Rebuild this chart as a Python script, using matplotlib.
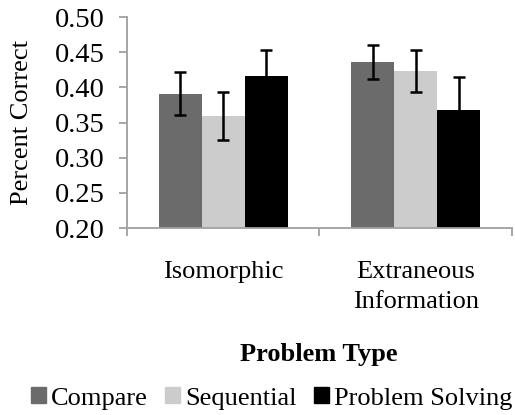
import matplotlib.pyplot as plt
import numpy as np
from matplotlib.patches import Patch

kategori = ['Isomorphic', 'Extraneous\nInformation']
seri = ['Compare', 'Sequential', 'Problem Solving']
warna = ['#6b6b6b', '#cccccc', '#000000']

nilai = [
    [0.391, 0.436],   # Compare
    [0.359, 0.423],   # Sequential
    [0.416, 0.368],   # Problem Solving
]
galat = [
    [0.031, 0.024],
    [0.034, 0.030],
    [0.037, 0.046],
]

plt.rcParams['font.family'] = ['Liberation Serif', 'DejaVu Serif']

fig = plt.figure(figsize=(5.15, 4.15), dpi=100)
ax = fig.add_axes([0.2466, 0.4506, 0.7474, 0.5084])

x = np.arange(len(kategori))
lebar = 0.223
for i, (nama, c) in enumerate(zip(seri, warna)):
    ax.bar(x + (i - 1) * lebar, nilai[i], lebar, color=c, label=nama,
           yerr=galat[i], error_kw=dict(ecolor='black', elinewidth=1.8,
                                        capsize=4.3, capthick=1.8),
           zorder=2)

ax.set_ylim(0.20, 0.50)
ax.set_yticks(np.arange(0.20, 0.501, 0.05))
ax.set_yticklabels([f'{v:.2f}' for v in np.arange(0.20, 0.501, 0.05)])
ax.set_xlim(-0.5, 1.5)
ax.set_xticks([-0.5, 0.5, 1.5])
ax.set_xticklabels([])
ax.set_xticks(x, minor=True)
ax.set_xticklabels(kategori, minor=True, linespacing=1.45)
ax.tick_params(axis='x', which='minor', length=0, pad=24, labelsize=19)
ax.tick_params(axis='x', which='major', length=6, color='#a0a0a0', width=1.3)
ax.tick_params(axis='y', length=6, color='#a0a0a0', width=1.3, labelsize=20.5, pad=10)

for s in ['top', 'right']:
    ax.spines[s].set_visible(False)
for s in ['left', 'bottom']:
    ax.spines[s].set_color('#a0a0a0')
    ax.spines[s].set_linewidth(1.3)

ax.set_ylabel('Percent Correct', fontsize=19)
ax.yaxis.set_label_coords(-0.244, 0.5)

fig.text(0.619, 0.145, 'Problem Type', ha='center', va='center',
         fontsize=19, fontweight='bold')

handles = [Patch(color=c) for c in warna]
fig.legend(handles, seri, loc='center', bbox_to_anchor=(0.528, 0.04), ncol=3,
           frameon=False, fontsize=19, handlelength=0.57, handleheight=0.57,
           handletextpad=0.19, columnspacing=0.65, borderpad=0, borderaxespad=0)

fig.savefig('out.png', dpi=100)
